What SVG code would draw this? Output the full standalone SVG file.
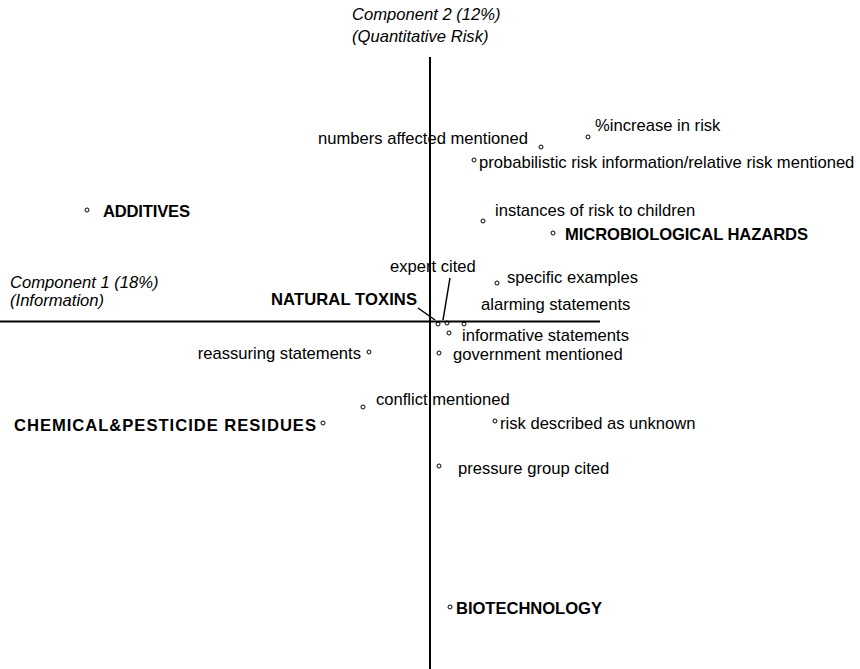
<svg xmlns="http://www.w3.org/2000/svg" width="860" height="669" viewBox="0 0 860 669">
<style>
text{font-family:"Liberation Sans",Arial,sans-serif;font-size:16.6px;fill:#000}
.b{font-weight:bold}
.i{font-style:italic}
circle{fill:none;stroke:#000;stroke-width:1}
line{stroke:#000}
</style>
<rect width="860" height="669" fill="#fff"/>
<g id="axes">
<line x1="430" y1="57" x2="430" y2="669" stroke-width="2"/>
<line x1="0" y1="321.5" x2="600" y2="321.5" stroke-width="2"/>
<text class="i" x="352" y="20">Component 2 (12%)</text>
<text class="i" x="352" y="42">(Quantitative Risk)</text>
<text class="i" x="10" y="288">Component 1 (18%)</text>
<text class="i" x="10" y="306">(Information)</text>
</g>
<g id="connectors">
<line x1="418" y1="308" x2="435" y2="320" stroke-width="1.5"/>
<line x1="450" y1="278" x2="443" y2="320" stroke-width="1.5"/>
</g>
<g id="increase"><circle cx="588" cy="137" r="2"/><text x="595" y="131">%increase in risk</text></g>
<g id="numbers"><circle cx="541" cy="147" r="2"/><text x="318" y="144">numbers affected mentioned</text></g>
<g id="probabilistic"><circle cx="474" cy="160" r="2"/><text x="479" y="168">probabilistic risk information/relative risk mentioned</text></g>
<g id="additives"><circle cx="87" cy="210" r="2"/><text class="b" x="103" y="217" textLength="87">ADDITIVES</text></g>
<g id="children"><circle cx="483" cy="221" r="2"/><text x="495" y="216">instances of risk to children</text></g>
<g id="micro"><circle cx="553" cy="233" r="2"/><text class="b" x="565" y="240" textLength="243">MICROBIOLOGICAL HAZARDS</text></g>
<g id="expert"><text x="390" y="272">expert cited</text></g>
<g id="specific"><circle cx="497" cy="283" r="2"/><text x="507" y="283">specific examples</text></g>
<g id="natural"><text class="b" x="271" y="305" textLength="146">NATURAL TOXINS</text><circle cx="438" cy="324" r="2"/></g>
<g id="expertpt"><circle cx="447" cy="323" r="2"/></g>
<g id="alarming"><circle cx="464" cy="324" r="2"/><text x="481" y="310">alarming statements</text></g>
<g id="informative"><circle cx="449" cy="333" r="2"/><text x="462" y="341">informative statements</text></g>
<g id="reassuring"><circle cx="369" cy="352" r="2"/><text x="361" y="359" text-anchor="end">reassuring statements</text></g>
<g id="government"><circle cx="439" cy="353" r="2"/><text x="453" y="360">government mentioned</text></g>
<g id="conflict"><circle cx="363" cy="407" r="2"/><text x="376" y="405">conflict mentioned</text></g>
<g id="chemical"><circle cx="323" cy="423" r="2"/><text class="b" x="14" y="431" textLength="302">CHEMICAL&amp;PESTICIDE RESIDUES</text></g>
<g id="unknown"><circle cx="495" cy="421" r="2"/><text x="500" y="429">risk described as unknown</text></g>
<g id="pressure"><circle cx="439" cy="466" r="2"/><text x="458" y="474">pressure group cited</text></g>
<g id="biotech"><circle cx="450" cy="607" r="2"/><text class="b" x="456" y="614" textLength="146">BIOTECHNOLOGY</text></g>
</svg>
